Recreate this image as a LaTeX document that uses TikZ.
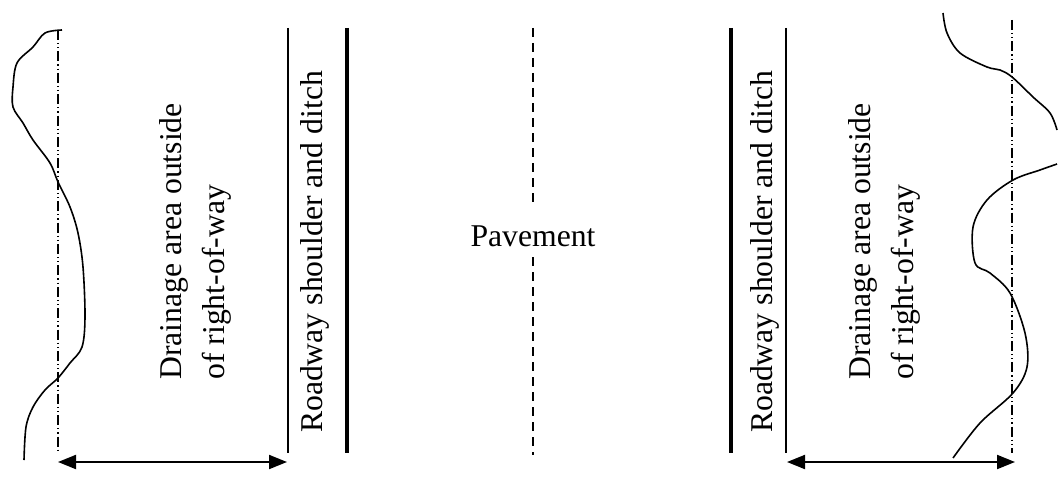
\documentclass[tikz,border=0pt]{standalone}
\usepackage{fontspec}
\setmainfont{Liberation Serif}
\usetikzlibrary{arrows.meta}
\begin{document}
\begin{tikzpicture}[x=0.5pt,y=-0.5pt,
  lbl/.style={font=\fontsize{15.85}{21.5}\selectfont, inner sep=0pt},
  vlbl/.style={lbl, rotate=90},
  edge/.style={line width=0.75pt},
  heavy/.style={line width=2pt},
  centreline/.style={line width=0.75pt, dash pattern=on 4.5pt off 3pt},
  rowline/.style={line width=0.75pt, dash pattern=on 5pt off 1.5pt on 0.6pt off 1.5pt on 0.6pt off 1.5pt},
  terrain/.style={line width=0.8pt, line join=round},
  span/.style={line width=1pt, {Triangle[length=9pt,width=7pt]}-{Triangle[length=9pt,width=7pt]}}]
\useasboundingbox (0,0) rectangle (1058,476);

% right-of-way limits
\coordinate (rowLt) at (58,30);   \coordinate (rowLb) at (58,453);
\coordinate (rowRt) at (1012,20); \coordinate (rowRb) at (1012,453);
\draw[rowline] (rowLt) -- (rowLb);
\draw[rowline] (rowRt) -- (rowRb);

% shoulder edges
\coordinate (shLat) at (288,28);  \coordinate (shLab) at (288,453);
\coordinate (shLbt) at (347,28);  \coordinate (shLbb) at (347,453);
\coordinate (shRat) at (731,28);  \coordinate (shRab) at (731,453);
\coordinate (shRbt) at (786,28);  \coordinate (shRbb) at (786,453);
\draw[edge]  (shLat) -- (shLab);
\draw[heavy] (shLbt) -- (shLbb);
\draw[heavy] (shRat) -- (shRab);
\draw[edge]  (shRbt) -- (shRbb);

% pavement centre line
\node[lbl] (pave) at (533,236) {Pavement};
\coordinate (clt) at (533,28);
\coordinate (clb) at (533,455);
\draw[centreline] (clt) -- (pave.north |- 0,205);
\draw[centreline] (pave.south |- 0,257) -- (clb);

% labels
\node[vlbl] (shL) at (315,252) {Roadway shoulder and ditch};
\node[vlbl] (shR) at (765,252) {Roadway shoulder and ditch};
\node[vlbl, align=left, anchor=west] (drL) at (195,380) {Drainage area outside\\of right-of-way};
\node[vlbl, align=left, anchor=west] (drR) at (884,380) {Drainage area outside\\of right-of-way};

% ground profiles
\draw[terrain] plot[smooth, tension=0.55] coordinates {(62,30) (45,33) (33,47) (17,63) (13,87) (13,107) (23,123) (33,140) (50,163) (58,182) (70,207) (78,233) (83,267) (85,317) (82,347) (70,363) (58,378) (45,390) (33,407) (26,427) (24,460)};
\draw[terrain] plot[smooth, tension=0.55] coordinates {(943,13) (947,33) (960,53) (987,67) (1000,70) (1012,77) (1033,97) (1050,113) (1057,130)};
\draw[terrain] plot[smooth, tension=0.55] coordinates {(1057,164) (1040,170) (1013,180) (987,200) (973,227) (975,263) (990,273) (1010,293) (1025,333) (1027,367) (1013,393) (980,423) (953,458)};

% widths of the drainage areas
\coordinate (aLl) at (58,462);  \coordinate (aLr) at (287,462);
\coordinate (aRl) at (787,462); \coordinate (aRr) at (1015,462);
\draw[span] (aLl) -- (aLr);
\draw[span] (aRl) -- (aRr);
\end{tikzpicture}
\end{document}
